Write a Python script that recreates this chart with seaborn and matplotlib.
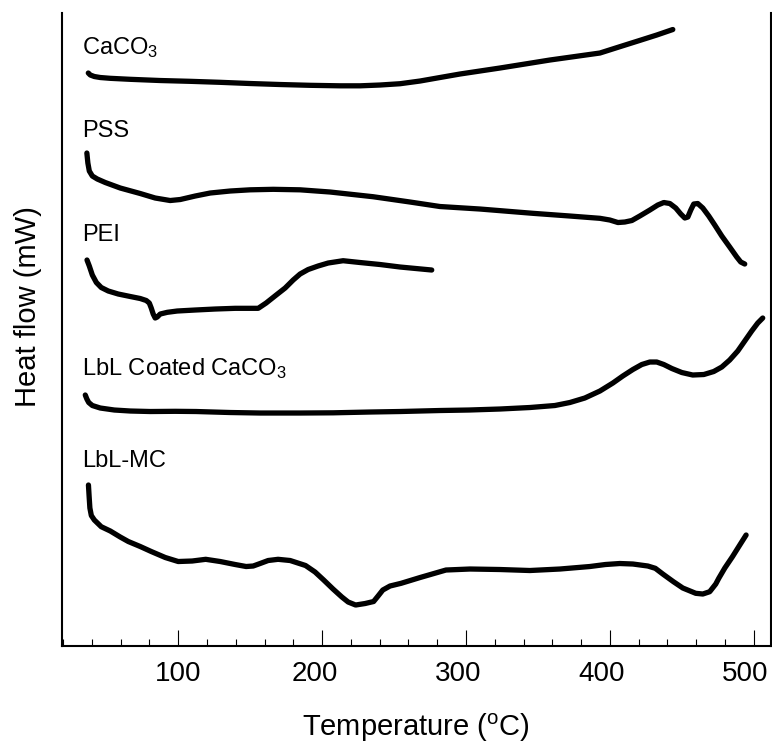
import matplotlib
matplotlib.use("Agg")
import matplotlib.pyplot as plt
from matplotlib.transforms import ScaledTranslation
import seaborn as sns
import pandas as pd

# DSC thermograms; heat flow in arbitrary units, curves offset vertically
caco3_t = [37.5, 38.9, 41.7, 45.8, 52.8, 66.7, 87.5, 108.3, 129.2, 150, 170.8, 191.7, 212.5,
           226.4, 240.3, 254.2, 268.1, 281.9, 295.8, 309.7, 323.6, 341, 358.3, 375.7, 393.1,
           406.9, 420.8, 432.6, 443.75]
caco3_hf = [573, 571, 569.5, 568.5, 567.7, 566.7, 565.5, 564.7, 563.7, 562.5, 561.5, 560.7,
            560.2, 560.2, 561, 562.3, 565, 568.5, 572, 575, 578, 582, 586, 589.5, 593, 599.3,
            605.6, 611, 616.5]

pss_t = [36.5, 37.2, 38.2, 40.3, 43.75, 49.3, 59.7, 73.6, 84.0, 94.4, 101.4, 111.8, 122.2,
         136.1, 150, 166, 184.7, 205.6, 235.4, 261.1, 281.9, 309.7, 346.5, 372.2, 393.1, 400,
         405.6, 410.4, 415.3, 420.8, 427.8, 433.3, 437.5, 441.7, 445.8, 449.3, 452.1, 454.2,
         456.25, 458.3, 461.1, 464.6, 468.75, 472.9, 477.8, 483.3, 488.2, 490.97, 493.75]
pss_hf = [493, 483, 475, 470, 467, 463.5, 458, 452.5, 448, 445.5, 446.5, 450, 453, 455, 456.2,
          456.7, 456.2, 454, 449.3, 444, 439.5, 437, 432.7, 430, 427.7, 426, 423.5, 424, 425.5,
          430, 436, 441, 443.5, 442.5, 438, 432, 428, 429, 436, 442, 442.5, 438, 430, 421, 410,
          399, 389, 384, 382]

pei_t = [36.6, 38.2, 40.3, 43.1, 46.5, 51.4, 58.3, 66.7, 73.6, 77.8, 79.9, 81.25, 82.6, 84.0,
         85.4, 87.5, 92.4, 99.3, 111.8, 125.7, 139.6, 155.6, 161.1, 168.1, 174.3, 179.9, 184.7,
         190.3, 197.2, 204.2, 214.6, 226.4, 240.3, 254.2, 276.2]
pei_hf = [386, 380, 371, 363.5, 358.5, 355, 352, 349.5, 347.5, 345.5, 343, 338, 332, 328, 329,
          332, 333.7, 335, 336, 337, 337.7, 337.7, 343, 351, 358, 366, 372, 376.5, 380, 383,
          385.3, 383.5, 381.5, 379, 376]

lbl_t = [35.4, 36.5, 37.8, 40.3, 45.8, 55.6, 66.7, 80.6, 97.9, 112.5, 136.1, 156.9, 184.7,
         207.6, 233.3, 254.2, 281.9, 302.1, 323.6, 344.4, 361.8, 372.2, 382.6, 393.1, 402.1,
         409.0, 416.0, 422.2, 427.8, 432.6, 437.5, 443.1, 450, 457.6, 465.3, 472.2, 477.8,
         483.3, 488.9, 493.75, 498.6, 502.8, 506.25]
lbl_hf = [251, 247, 243.5, 240.5, 238, 236, 235, 234.5, 234.7, 234.5, 233.5, 233, 233, 233.2,
          234, 234.5, 235.5, 236, 237, 238.5, 240.5, 243.5, 248, 255, 263, 270, 276.5, 281.5,
          284, 284, 281.5, 277.5, 273.5, 271, 271.5, 274.5, 279, 286, 295, 305, 315, 323, 328]

mc_t = [37.6, 38.1, 38.6, 39.6, 41.7, 46.5, 52.8, 59.7, 65.3, 73.6, 81.25, 91.0, 100, 109.7,
        119.1, 129.2, 139.6, 147.2, 152.1, 156.9, 162.5, 169.4, 177.8, 188.5, 195.1, 201.1,
        207.6, 213.75, 218.1, 223.3, 229.9, 235.8, 238.9, 242.2, 247.2, 254.9, 268.1, 286.1,
        302.8, 323.6, 344.4, 365.3, 386.1, 396.9, 406.9, 416.0, 426.4, 431.6, 436.8, 444.2,
        450.7, 459.7, 464.6, 469.4, 473.6, 475.7, 479.9, 485.2, 490.3, 494.7]
mc_hf = [161, 149, 138, 130.5, 126, 119.3, 115, 109, 104.5, 99.5, 94.5, 88.5, 84.5, 85, 86.7,
         84.5, 81.5, 79.5, 80, 82.5, 85.5, 86.7, 85.5, 80.5, 74, 66, 57, 49, 44, 41, 42.5,
         44.5, 50, 56, 60, 62.7, 68.5, 76, 77, 76.5, 75.5, 77, 79.5, 81.5, 82.5, 82, 80, 77.7,
         72, 64.3, 58, 52.7, 52, 54.3, 62, 67.7, 78, 89.3, 101, 111]

samples = ["CaCO3", "PSS", "PEI", "LbL Coated CaCO3", "LbL-MC"]
sample_labels = [r"CaCO$\mathregular{_3}$", "PSS", "PEI",
                 r"LbL Coated CaCO$\mathregular{_3}$", "LbL-MC"]
label_hf = [592, 509.3, 405.3, 271, 179]
label_t = 33.3

x_ticks = [100, 200, 300, 400, 500]

frames = []
for name, t, hf in zip(samples,
                       [caco3_t, pss_t, pei_t, lbl_t, mc_t],
                       [caco3_hf, pss_hf, pei_hf, lbl_hf, mc_hf]):
    frames.append(pd.DataFrame({"Temperature": t, "Heat flow": hf, "sample": name}))
df = pd.concat(frames, ignore_index=True)

sns.set_theme(style="white")
plt.rcParams["font.family"] = ["Liberation Sans", "DejaVu Sans"]
plt.rcParams["mathtext.default"] = "regular"

fig = plt.figure(figsize=(7.72, 7.44), dpi=100)
ax = fig.add_axes([0.0799, 0.1317, 0.9188, 0.8508])

sns.lineplot(data=df, x="Temperature", y="Heat flow", hue="sample", units="sample",
             estimator=None, sort=False, palette=["black"] * len(samples), legend=False,
             linewidth=3.8, ax=ax, solid_capstyle="round", solid_joinstyle="round")

for lab, yv in zip(sample_labels, label_hf):
    ax.text(label_t, yv, lab, fontsize=17, color="black", ha="left", va="baseline")

ax.set_xlim(19, 512)
ax.set_ylim(0, 633)
ax.set_xticks(x_ticks)
ax.set_xticks(range(20, 512, 20), minor=True)
ax.set_yticks([])
ax.tick_params(axis="x", which="both", bottom=True, top=False, direction="in",
               colors="black")
ax.tick_params(axis="x", which="major", length=11.5, width=0.8, labelsize=20, pad=11)
ax.tick_params(axis="x", which="minor", length=5, width=0.8)

# nudge tick labels slightly left, as in the printed axis
label_shift_px = [0, -7, -8, -8, -9]
for lab, dx in zip(ax.get_xticklabels(), label_shift_px):
    lab.set_transform(lab.get_transform() + ScaledTranslation(dx / fig.dpi, 0, fig.dpi_scale_trans))

for side in ["left", "bottom", "right"]:
    ax.spines[side].set_visible(True)
    ax.spines[side].set_color("black")
    ax.spines[side].set_linewidth(1.5)
ax.spines["top"].set_visible(False)

ax.set_xlabel(r"Temperature ($\mathregular{^o}$C)", fontsize=21, color="black")
ax.set_ylabel("Heat flow (mW)", fontsize=21, color="black")
ax.xaxis.set_label_coords(0.5, -0.103)
ax.yaxis.set_label_coords(-0.0278, 0.5355)

fig.savefig("out.png", dpi=100, facecolor="white")
